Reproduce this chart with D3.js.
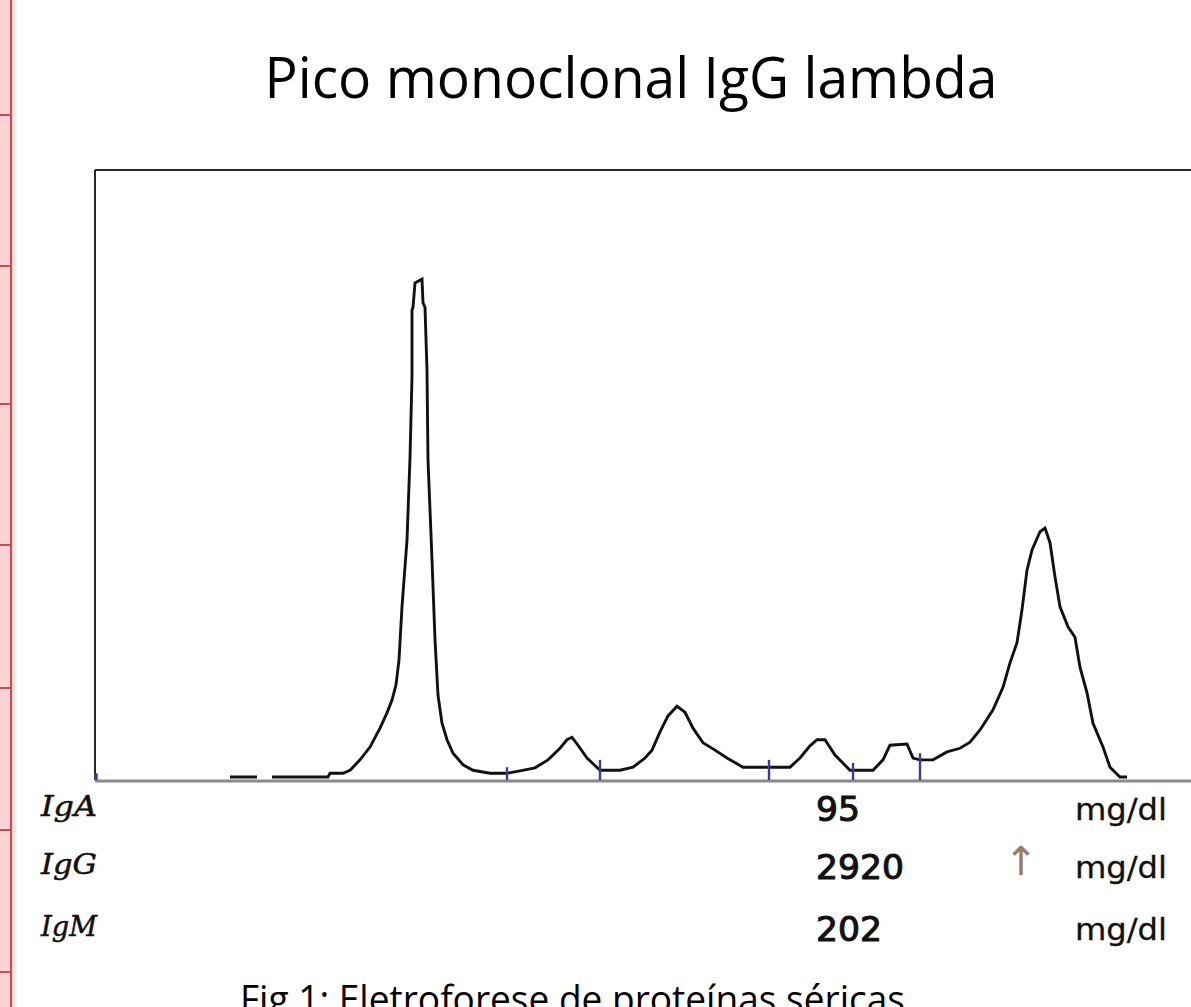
<!DOCTYPE html>
<html>
<head>
<meta charset="utf-8">
<script src="https://cdn.jsdelivr.net/npm/d3@7"></script>
<style>
  html, body { margin: 0; padding: 0; background: #ffffff; }
  svg { display: block; }
</style>
</head>
<body>
<svg id="chart" width="1191" height="1007"></svg>
<script>
// ---- data ----
const title = "Pico monoclonal IgG lambda";
const caption = "Fig 1: Eletroforese de proteínas séricas";

// mobility (x) and relative density (y); null = gap in the trace
const mobility = [135,162,170,177,233,235,248,255,265,275,285,292,297,301,304,307,312,315,317,317,318,320,327,328,330,332,333,337,340,343,347,352,358,368,378,395,412,425,440,453,465,472,477,483,492,505,525,538,550,557,565,573,582,590,598,608,620,632,648,675,695,705,715,722,730,740,755,778,788,795,812,818,825,838,852,865,875,885,898,908,915,922,927,932,937,945,950,955,960,965,973,980,985,992,998,1008,1015,1025,1032];
const density  = [0.5,0.5,null,0.5,0.5,1.1,1.1,1.6,3.3,5.4,8.5,11.0,13.1,15.6,19.7,28.4,39.3,52.8,66.1,77.0,77.5,81.5,82.1,78.2,77.5,67.2,52.5,36.1,23.0,13.9,9.3,6.6,4.4,2.5,1.6,1.1,1.1,1.5,2.0,3.3,5.2,6.6,7.0,5.7,3.6,1.6,1.6,2.1,3.6,4.9,7.9,10.5,12.1,11.1,8.5,6.1,4.9,3.6,2.1,2.1,2.1,3.6,5.6,6.6,6.6,4.1,1.6,1.6,3.3,5.7,5.9,3.6,3.3,3.3,4.6,5.2,6.2,8.2,11.5,15.2,19.2,22.5,27.9,34.4,37.7,40.7,41.3,38.9,33.3,28.4,25.1,23.4,18.5,14.3,9.3,5.4,2.1,0.5,0.5];

// fraction separators (blue marks on the baseline)
const dividerPos    = [1, 412, 505, 674, 758, 825];
const dividerHeight = [1.1, 2.1, 3.3, 3.3, 2.8, 4.4];

// immunoglobulin table
const igNames  = ["IgA", "IgG", "IgM"];
const igValues = ["95", "2920", "202"];
const igFlags  = ["", "↑", ""];
const igUnits  = ["mg/dl", "mg/dl", "mg/dl"];

// decorative slide border rows (left edge)
const stripRows = [115, 266, 404, 545, 688, 830, 972];

// ---- drawing ----
const svg = d3.select("#chart");
const W = 1191, H = 1007;
const box = { left: 95, top: 170, bottom: 780 };

// left pink strip of the slide
svg.append("rect").attr("x", 0).attr("y", 0).attr("width", 11).attr("height", H).attr("fill", "#fdd3d3");
const grad = svg.append("defs").append("linearGradient").attr("id", "shadow");
grad.append("stop").attr("offset", "0%").attr("stop-color", "#d4d4d4");
grad.append("stop").attr("offset", "100%").attr("stop-color", "#ffffff");
svg.append("rect").attr("x", 12).attr("y", 0).attr("width", 6).attr("height", H).attr("fill", "url(#shadow)");
svg.append("line").attr("x1", 11).attr("x2", 11).attr("y1", 0).attr("y2", H)
  .attr("stroke", "#c24f4f").attr("stroke-width", 2);
svg.selectAll("line.row").data(stripRows).join("line").attr("class", "row")
  .attr("x1", 0).attr("x2", 11).attr("y1", d => d).attr("y2", d => d)
  .attr("stroke", "#c24f4f").attr("stroke-width", 2);

// title
svg.append("text").attr("x", 631).attr("y", 98).attr("text-anchor", "middle")
  .attr("font-family", "'Open Sans', 'Noto Sans', sans-serif").attr("font-size", 57)
  .attr("textLength", 733).attr("lengthAdjust", "spacingAndGlyphs")
  .attr("fill", "#000").text(title);

// scales
const x = d3.scaleLinear().domain([0, 1100]).range([box.left, box.left + 1100]);
const y = d3.scaleLinear().domain([0, 100]).range([box.bottom, box.top]);

// frame: top and left borders
svg.append("line").attr("x1", box.left).attr("x2", W).attr("y1", box.top).attr("y2", box.top)
  .attr("stroke", "#2a2a2a").attr("stroke-width", 2);
svg.append("line").attr("x1", box.left).attr("x2", box.left).attr("y1", box.top).attr("y2", box.bottom)
  .attr("stroke", "#2a2a2a").attr("stroke-width", 2);

// baseline (x axis without ticks)
const xAxis = d3.axisBottom(x).tickValues([]).tickSizeOuter(0);
svg.append("g").attr("transform", `translate(0,${box.bottom + 1})`).call(xAxis)
  .call(g => g.select(".domain").attr("stroke", "#8a8a8a").attr("stroke-width", 3)
    .attr("d", `M${box.left},0H${W}`));

// densitometry trace
const pts = mobility.map((m, i) => ({ m, v: density[i] }));
const line = d3.line().defined(d => d.v != null).x(d => x(d.m)).y(d => y(d.v));
svg.append("path").datum(pts).attr("d", line)
  .attr("fill", "none").attr("stroke", "#111").attr("stroke-width", 2.9)
  .attr("stroke-linejoin", "miter");

// fraction dividers
svg.selectAll("line.div").data(dividerPos).join("line").attr("class", "div")
  .attr("x1", d => x(d)).attr("x2", d => x(d))
  .attr("y1", (d, i) => y(dividerHeight[i])).attr("y2", box.bottom)
  .attr("stroke", "#3c3ca0").attr("stroke-width", (d, i) => i === 0 ? 3.5 : 2.4);

// table rows
const rowBase = [816, 874, 936];
const tbl = svg.append("g");
tbl.selectAll("text.name").data(igNames).join("text").attr("class", "name")
  .attr("x", 41).attr("y", (d, i) => rowBase[i])
  .attr("font-family", "'DejaVu Serif', serif").attr("font-style", "italic").attr("font-size", 27)
  .attr("textLength", 56).attr("lengthAdjust", "spacingAndGlyphs")
  .attr("fill", "#111").attr("stroke", "#111").attr("stroke-width", 0.5).text(d => d);
tbl.selectAll("text.val").data(igValues).join("text").attr("class", "val")
  .attr("x", 816).attr("y", (d, i) => rowBase[i] + 5)
  .attr("font-family", "'DejaVu Sans', sans-serif").attr("font-size", 34)
  .attr("textLength", (d) => d.length * 22).attr("lengthAdjust", "spacingAndGlyphs")
  .attr("fill", "#111").attr("stroke", "#111").attr("stroke-width", 1.1).text(d => d);
tbl.selectAll("text.flag").data(igFlags).join("text").attr("class", "flag")
  .attr("x", 1021).attr("y", (d, i) => rowBase[i] + 1).attr("text-anchor", "middle")
  .attr("font-family", "'DejaVu Sans', sans-serif").attr("font-size", 40)
  .attr("fill", "#a0785a").text(d => d);
tbl.selectAll("text.unit").data(igUnits).join("text").attr("class", "unit")
  .attr("x", 1075).attr("y", (d, i) => rowBase[i] + 4)
  .attr("font-family", "'DejaVu Sans', sans-serif").attr("font-size", 30)
  .attr("textLength", 92).attr("lengthAdjust", "spacingAndGlyphs")
  .attr("fill", "#111").attr("stroke", "#111").attr("stroke-width", 0.3).text(d => d);

// caption (cut off by the bottom edge, as in the original slide)
svg.append("text").attr("x", 240).attr("y", 1013)
  .attr("font-family", "'Open Sans', 'Noto Sans', sans-serif").attr("font-size", 38)
  .attr("textLength", 665).attr("lengthAdjust", "spacingAndGlyphs")
  .attr("fill", "#000").text(caption);
</script>
</body>
</html>
